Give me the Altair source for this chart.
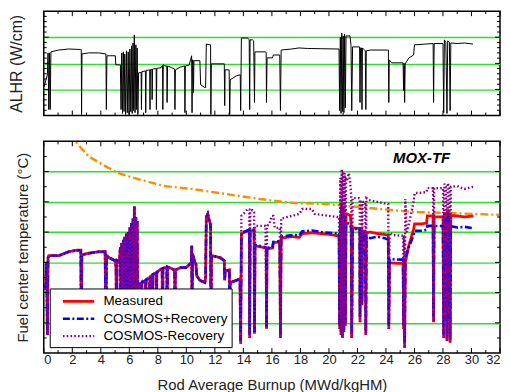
import altair as alt
import pandas as pd

FONT = "Liberation Sans"
W, H1, H2 = 459, 105, 213
GREEN = "#2be02b"

# ---------------- data (burnup MWd/kgHM, value) ----------------
alhr = [
    (0.03, 110), (0.15, 137), (0.25, 156), (0.3, 240), (0.35, 23), (0.4, 240), (0.45, 23), (0.5, 244),
    (1.05, 251), (1.74, 255), (2.58, 253), (2.63, 253), (2.65, 4), (2.68, 236), (3.14, 240), (3.84, 240),
    (4.36, 236), (4.39, 23), (4.43, 229), (5.02, 229), (5.05, 194), (5.3, 194),
    (5.37, 194), (5.42, 23), (5.47, 240), (5.52, 8), (5.58, 244), (5.63, 15), (5.68, 236), (5.74, 4),
    (5.8, 248), (5.86, 11), (5.92, 244), (5.98, 4), (6.04, 255), (6.1, 15), (6.16, 267), (6.2, 8),
    (6.26, 278), (6.3, 19), (6.35, 309), (6.4, 11), (6.46, 271), (6.5, 23), (6.55, 259), (6.6, 4), (6.65, 164),
    (6.76, 164), (6.83, 166), (6.85, 23), (6.88, 168), (7.13, 171), (7.15, 11), (7.18, 173), (7.43, 175),
    (7.45, 23), (7.48, 176), (7.58, 177), (7.6, 61), (7.63, 178), (7.88, 180), (7.9, 23), (7.93, 181),
    (8.23, 183), (8.33, 192), (8.35, 23), (8.38, 194), (8.5, 190), (8.63, 190), (8.65, 50), (8.68, 190),
    (9.18, 178), (9.2, 23), (9.23, 175), (9.6, 186), (9.88, 190), (9.9, 11), (9.93, 190), (10.2, 194),
    (10.37, 229), (10.4, 11), (10.43, 213), (10.47, 213), (10.5, 88), (10.53, 210), (10.95, 210),
    (11.0, 118), (11.3, 107), (11.35, 107), (11.4, 274), (11.65, 271), (11.7, 271), (11.72, 4), (11.75, 198),
    (12.66, 198), (12.69, 38), (12.72, 175), (13.0, 175), (13.04, 4), (13.08, 137), (13.5, 152), (13.78, 156),
    (13.81, 19), (13.86, 297), (14.3, 297), (14.41, 290), (14.44, 23), (14.47, 290), (14.64, 290),
    (14.72, 286), (14.78, 50), (14.81, 244), (15.55, 244), (15.6, 240), (15.62, 50), (15.66, 221),
    (16.04, 221), (16.1, 232), (16.55, 232), (16.6, 19), (16.65, 251), (17.4, 255), (17.9, 259),
    (18.5, 257), (19.5, 256), (20.57, 255), (20.71, 255),
    (20.75, 19), (20.8, 300), (20.85, 8), (20.9, 316), (20.95, 15), (21.0, 305), (21.05, 11), (21.1, 312),
    (21.15, 30), (21.2, 305), (21.48, 305), (21.55, 267), (21.6, 19), (21.66, 263), (22.15, 263),
    (22.18, 50), (22.22, 259), (22.29, 259), (22.32, 23), (22.35, 259), (22.55, 248), (22.59, 23),
    (22.62, 248), (22.9, 251), (24.1, 251), (24.17, 251), (24.2, 50), (24.23, 213), (24.4, 202),
    (25.2, 202), (25.24, 95), (25.28, 200), (25.31, 50), (25.35, 198), (25.6, 220), (25.94, 232),
    (26.0, 271), (26.8, 274), (27.31, 276), (27.34, 50), (27.38, 276), (28.0, 276), (28.05, 11),
    (28.1, 290), (28.2, 280), (28.28, 8), (28.33, 286), (28.45, 280), (28.5, 19), (28.55, 278),
    (29.0, 276), (29.5, 278), (30.1, 274),
]

temp_early = [
    (0.05, 820), (0.15, 860), (0.2, 1000), (0.25, 520), (0.3, 1030), (0.35, 1044), (1.05, 1044),
    (1.74, 1070), (2.3, 1080), (2.6, 1080), (2.63, 453), (2.67, 1050), (3.14, 1060), (3.84, 1070),
    (4.3, 1070), (4.36, 531), (4.4, 1044), (4.6, 1030), (5.02, 1010), (5.07, 960), (5.1, 518),
    (5.14, 1011), (5.3, 1000),
    (5.37, 1100), (5.42, 460), (5.47, 1130), (5.52, 433), (5.58, 1150), (5.63, 470), (5.68, 1170),
    (5.74, 440), (5.8, 1190), (5.86, 450), (5.92, 1200), (5.98, 433), (6.04, 1230), (6.1, 460),
    (6.16, 1260), (6.2, 440), (6.26, 1290), (6.3, 470), (6.35, 1370), (6.4, 440), (6.46, 1300),
    (6.5, 470), (6.55, 1274), (6.6, 450), (6.65, 860),
    (6.76, 850), (6.83, 860), (6.85, 450), (6.88, 865), (7.13, 880), (7.15, 470), (7.18, 885),
    (7.43, 900), (7.45, 450), (7.48, 905), (7.6, 915), (7.62, 470), (7.65, 920), (7.88, 930),
    (7.9, 440), (7.93, 935), (8.2, 955), (8.3, 958), (8.33, 470), (8.36, 960), (8.5, 965), (8.63, 965),
    (8.65, 480), (8.68, 970), (9.18, 950), (9.2, 500), (9.23, 950), (9.6, 965), (9.97, 965),
    (10.1, 975), (10.35, 1000), (10.38, 1110), (10.4, 450), (10.43, 1057), (10.6, 1000), (10.67, 990),
    (10.72, 913), (10.95, 880), (11.3, 867), (11.35, 900), (11.4, 1300), (11.5, 1320), (11.6, 1280),
    (11.66, 1260), (11.7, 1250), (11.72, 440), (11.76, 1044), (12.0, 1040), (12.4, 1030),
    (12.66, 1010), (12.69, 880), (12.72, 940), (13.0, 950), (13.02, 950), (13.04, 450), (13.08, 867),
    (13.5, 880), (13.76, 893),
]

measured_late = [
    (13.81, 460), (13.86, 1189), (14.3, 1208), (14.42, 1208), (14.44, 500), (14.48, 1208),
    (14.64, 1210), (14.75, 1210), (14.78, 530), (14.82, 1110), (15.55, 1095), (15.6, 1090),
    (15.62, 560), (15.66, 1090), (16.04, 1095), (16.1, 1130), (16.55, 1135), (16.6, 500),
    (16.65, 1160), (17.4, 1170), (17.92, 1165), (18.13, 1190), (18.8, 1195), (19.5, 1190),
    (20.0, 1185), (20.6, 1176), (20.71, 1180),
    (20.75, 560), (20.8, 1300), (20.85, 520), (20.9, 1390), (20.95, 500), (21.0, 1360), (21.05, 540),
    (21.1, 1330), (21.15, 580), (21.2, 1320), (21.27, 1320), (21.5, 1310), (21.56, 1240), (21.6, 500),
    (21.66, 1228), (22.1, 1225), (22.16, 1225), (22.18, 604), (22.22, 1215), (22.3, 1215),
    (22.32, 716), (22.36, 1210), (22.55, 1200), (22.59, 520), (22.63, 1195), (22.9, 1200),
    (23.4, 1190), (23.9, 1185), (24.16, 1180), (24.2, 560), (24.25, 998), (24.5, 995), (25.2, 992),
    (25.24, 560), (25.28, 990), (25.31, 433), (25.36, 1000), (25.6, 1110), (25.94, 1220),
    (26.01, 1254), (26.5, 1254), (26.85, 1260), (26.9, 1307), (27.3, 1307), (27.34, 604),
    (27.38, 1300), (28.0, 1300), (28.05, 500), (28.1, 1330), (28.2, 1300), (28.28, 480),
    (28.33, 1350), (28.45, 1300), (28.5, 470), (28.55, 1310), (29.0, 1307), (29.5, 1300),
    (30.13, 1307),
]

cplus_late = [
    (13.81, 480), (13.86, 1195), (14.3, 1212), (14.42, 1212), (14.44, 520), (14.48, 1212),
    (14.64, 1215), (14.75, 1215), (14.78, 540), (14.82, 1115), (15.55, 1100), (15.6, 1095),
    (15.62, 570), (15.66, 1095), (16.04, 1100), (16.1, 1135), (16.55, 1140), (16.6, 520),
    (16.65, 1170), (17.4, 1180), (17.92, 1180), (18.13, 1205), (18.8, 1210), (19.5, 1200),
    (20.0, 1195), (20.6, 1190), (20.71, 1190),
    (20.75, 580), (20.8, 1290), (20.85, 540), (20.9, 1370), (20.95, 520), (21.0, 1350), (21.05, 560),
    (21.1, 1320), (21.15, 600), (21.2, 1260), (21.27, 1261), (21.5, 1250), (21.56, 1225),
    (21.6, 520), (21.66, 1222), (22.1, 1220), (22.16, 1220), (22.18, 640), (22.22, 1210),
    (22.3, 1205), (22.32, 740), (22.36, 1200), (22.55, 1190), (22.59, 540), (22.63, 1170),
    (22.9, 1160), (23.4, 1170), (23.9, 1160), (24.16, 1150), (24.2, 580), (24.25, 1024),
    (24.5, 1020), (25.2, 1018), (25.24, 580), (25.28, 1015), (25.31, 470), (25.36, 1030),
    (25.6, 1100), (25.94, 1180), (26.01, 1208), (26.5, 1210), (26.85, 1215), (26.9, 1241),
    (27.3, 1241), (27.34, 640), (27.38, 1240), (28.0, 1240), (28.05, 520), (28.1, 1320),
    (28.2, 1250), (28.28, 500), (28.33, 1330), (28.45, 1250), (28.5, 490), (28.55, 1240),
    (29.0, 1230), (29.5, 1235), (30.13, 1225),
]

cminus_late = [
    (13.81, 470), (13.86, 1307), (14.1, 1330), (14.3, 1353), (14.42, 1350), (14.44, 500),
    (14.48, 1340), (14.64, 1345), (14.75, 1330), (14.78, 530), (14.82, 1241), (15.55, 1241),
    (15.62, 560), (15.66, 1241), (15.8, 1250), (16.0, 1307), (16.1, 1307), (16.2, 1228),
    (16.55, 1228), (16.6, 500), (16.65, 1290), (17.4, 1307), (17.92, 1320), (18.13, 1353),
    (18.8, 1353), (19.0, 1320), (20.0, 1307), (20.6, 1300), (20.71, 1300),
    (20.75, 560), (20.8, 1560), (20.85, 520), (20.9, 1616), (20.95, 500), (21.0, 1600), (21.05, 540),
    (21.1, 1590), (21.15, 580), (21.2, 1550), (21.27, 1540), (21.4, 1590), (21.5, 1524),
    (21.56, 1440), (21.6, 500), (21.66, 1425), (22.1, 1425), (22.16, 1420), (22.18, 604),
    (22.22, 1410), (22.3, 1410), (22.32, 716), (22.36, 1400), (22.55, 1400), (22.59, 520),
    (22.63, 1425), (22.9, 1410), (23.4, 1400), (23.9, 1390), (24.16, 1386), (24.2, 560),
    (24.25, 1195), (24.5, 1180), (25.2, 1176), (25.24, 560), (25.28, 1180), (25.31, 433),
    (25.36, 1419), (25.45, 1200), (25.6, 1250), (25.94, 1400), (26.01, 1458), (26.5, 1460),
    (26.85, 1465), (26.9, 1491), (27.3, 1491), (27.34, 604), (27.38, 1490), (28.0, 1491),
    (28.05, 500), (28.1, 1520), (28.2, 1500), (28.28, 480), (28.33, 1524), (28.45, 1490),
    (28.5, 470), (28.55, 1500), (29.0, 1504), (29.5, 1485), (30.13, 1500),
]

limit_curve = [
    (1.95, 1860), (2.21, 1800), (3.14, 1701), (4.32, 1636), (5.23, 1590), (6.62, 1550), (8.51, 1504),
    (10.4, 1485), (12.76, 1452), (15.13, 1419), (17.43, 1393), (19.74, 1386), (21.27, 1373),
    (23.57, 1353), (25.94, 1333), (28.24, 1327), (31.94, 1314),
]

series_names = ["Measured", "COSMOS+Recovery", "COSMOS-Recovery"]
series_colors = ["#ff0000", "#0000ff", "#8b008b"]
series_dash = [[1, 0], [7, 2.5, 2, 2.5], [1.6, 2.2]]
series_width = [2.8, 2.4, 2.0]

label_text = ["MOX-TF"]
label_pos = [(26.5, 1688)]

x_major = list(range(0, 33, 2))
x_minor = list(range(1, 32, 2))
y1_major = [100, 200, 300]
y1_minor = [v for v in range(20, 400, 20) if v % 100]
y2_major = [600, 800, 1000, 1200, 1400, 1600]
y2_minor = [500, 700, 900, 1100, 1300, 1500, 1700]

# ---------------- scales / axes ----------------
xs = alt.Scale(domain=[0, 32], nice=False, zero=False)
ys1 = alt.Scale(domain=[0, 400], nice=False, zero=False)
ys2 = alt.Scale(domain=[400, 1800], nice=False, zero=False)


def yaxis(title, grid_vals, pad, size):
    return alt.Axis(values=grid_vals, grid=True, gridColor=GREEN, gridWidth=1.4, gridOpacity=1,
                    labels=False, ticks=False, domain=False, title=title, titleFont=FONT,
                    titleFontSize=size, titleFontWeight="normal", titleColor="#222",
                    titlePadding=pad)


ax_y1 = yaxis("ALHR (W/cm)", y1_major, 19, 16)
ax_y2 = yaxis("Fuel center temperature (°C)", y2_major, 13, 15)
ax_x2 = alt.Axis(values=x_major, grid=False, ticks=False, domain=False, labelFont=FONT,
                 labelFontSize=13, labelColor="#222", labelPadding=0,
                 title="Rod Average Burnup (MWd/kgHM)", titleFont=FONT, titleFontSize=15,
                 titleFontWeight="normal", titleColor="#222", titlePadding=12)


def tick_layers(yscale, yax, xax, h, ymaj, ymin):
    layers = []
    for vals, L in ((x_major, 5), (x_minor, 3)):
        df = pd.DataFrame({"b": vals})
        ex = alt.X("b:Q", scale=xs, axis=xax)
        layers.append(alt.Chart(df).mark_rule(color="black", strokeWidth=1).encode(
            x=ex, y=alt.value(h), y2=alt.value(h - L)))
        layers.append(alt.Chart(df).mark_rule(color="black", strokeWidth=1).encode(
            x=ex, y=alt.value(0), y2=alt.value(L)))
    for vals, L in ((ymaj, 5), (ymin, 3)):
        df = pd.DataFrame({"v": vals})
        ey = alt.Y("v:Q", scale=yscale, axis=yax)
        layers.append(alt.Chart(df).mark_rule(color="black", strokeWidth=1).encode(
            y=ey, x=alt.value(0), x2=alt.value(L)))
        layers.append(alt.Chart(df).mark_rule(color="black", strokeWidth=1).encode(
            y=ey, x=alt.value(W), x2=alt.value(W - L)))
    return layers


# ---------------- top panel ----------------
alhr_df = pd.DataFrame(alhr, columns=["b", "v"])
alhr_df["i"] = range(len(alhr_df))
alhr_line = alt.Chart(alhr_df).mark_line(color="black", strokeWidth=1, clip=True).encode(
    x=alt.X("b:Q", scale=xs, axis=None),
    y=alt.Y("v:Q", scale=ys1, axis=ax_y1),
    order="i:Q",
)
top = alt.layer(alhr_line, *tick_layers(ys1, ax_y1, None, H1, y1_major, y1_minor)).properties(
    width=W, height=H1)

# ---------------- bottom panel ----------------
rows = []
for name, late in zip(series_names, [measured_late, cplus_late, cminus_late]):
    for k, (b, v) in enumerate(temp_early + late):
        rows.append({"b": b, "v": v, "s": name, "i": k})
temp_df = pd.DataFrame(rows)

leg = alt.Legend(orient="none", legendX=6, legendY=148, title=None, fillColor="white",
                 strokeColor="black", padding=4, labelFont=FONT, labelFontSize=13.5,
                 labelColor="black", symbolType="M-2.1,0H2.1", symbolSize=225,
                 symbolStrokeWidth=2.6, rowPadding=1.5, labelOffset=16, symbolOffset=16)

temp_lines = alt.Chart(temp_df).mark_line(clip=True).encode(
    x=alt.X("b:Q", scale=xs, axis=ax_x2),
    y=alt.Y("v:Q", scale=ys2, axis=ax_y2),
    color=alt.Color("s:N", scale=alt.Scale(domain=series_names, range=series_colors), legend=leg),
    strokeDash=alt.StrokeDash("s:N", scale=alt.Scale(domain=series_names, range=series_dash),
                              legend=leg),
    strokeWidth=alt.StrokeWidth("s:N", scale=alt.Scale(domain=series_names, range=series_width),
                                legend=None),
    order="i:Q",
)

lim_df = pd.DataFrame(limit_curve, columns=["b", "v"])
lim_line = alt.Chart(lim_df).mark_line(color="#ff8c00", strokeWidth=2.4, strokeDash=[8, 3, 2, 3],
                                       clip=True).encode(
    x=alt.X("b:Q", scale=xs, axis=ax_x2),
    y=alt.Y("v:Q", scale=ys2, axis=ax_y2),
)

lab_df = pd.DataFrame({"b": [p[0] for p in label_pos], "v": [p[1] for p in label_pos],
                       "t": label_text})
lab = alt.Chart(lab_df).mark_text(font=FONT, fontSize=15, fontWeight="bold", fontStyle="italic",
                                  color="black").encode(
    x=alt.X("b:Q", scale=xs, axis=ax_x2),
    y=alt.Y("v:Q", scale=ys2, axis=ax_y2),
    text="t:N",
)

bottom = alt.layer(lim_line, temp_lines, lab,
                   *tick_layers(ys2, ax_y2, ax_x2, H2, y2_major, y2_minor)).properties(
    width=W, height=H2)

chart = alt.vconcat(top, bottom, spacing=22).resolve_scale(
    color="independent", strokeDash="independent", strokeWidth="independent"
).properties(
    padding={"left": 0, "top": 0, "right": 0, "bottom": 0}
).configure(
    padding={"left": 0, "top": 0, "right": 0, "bottom": 0}
).configure_view(stroke="black", strokeWidth=1.5)

chart.save("out.html", embed_options={"renderer": "svg", "actions": False})
